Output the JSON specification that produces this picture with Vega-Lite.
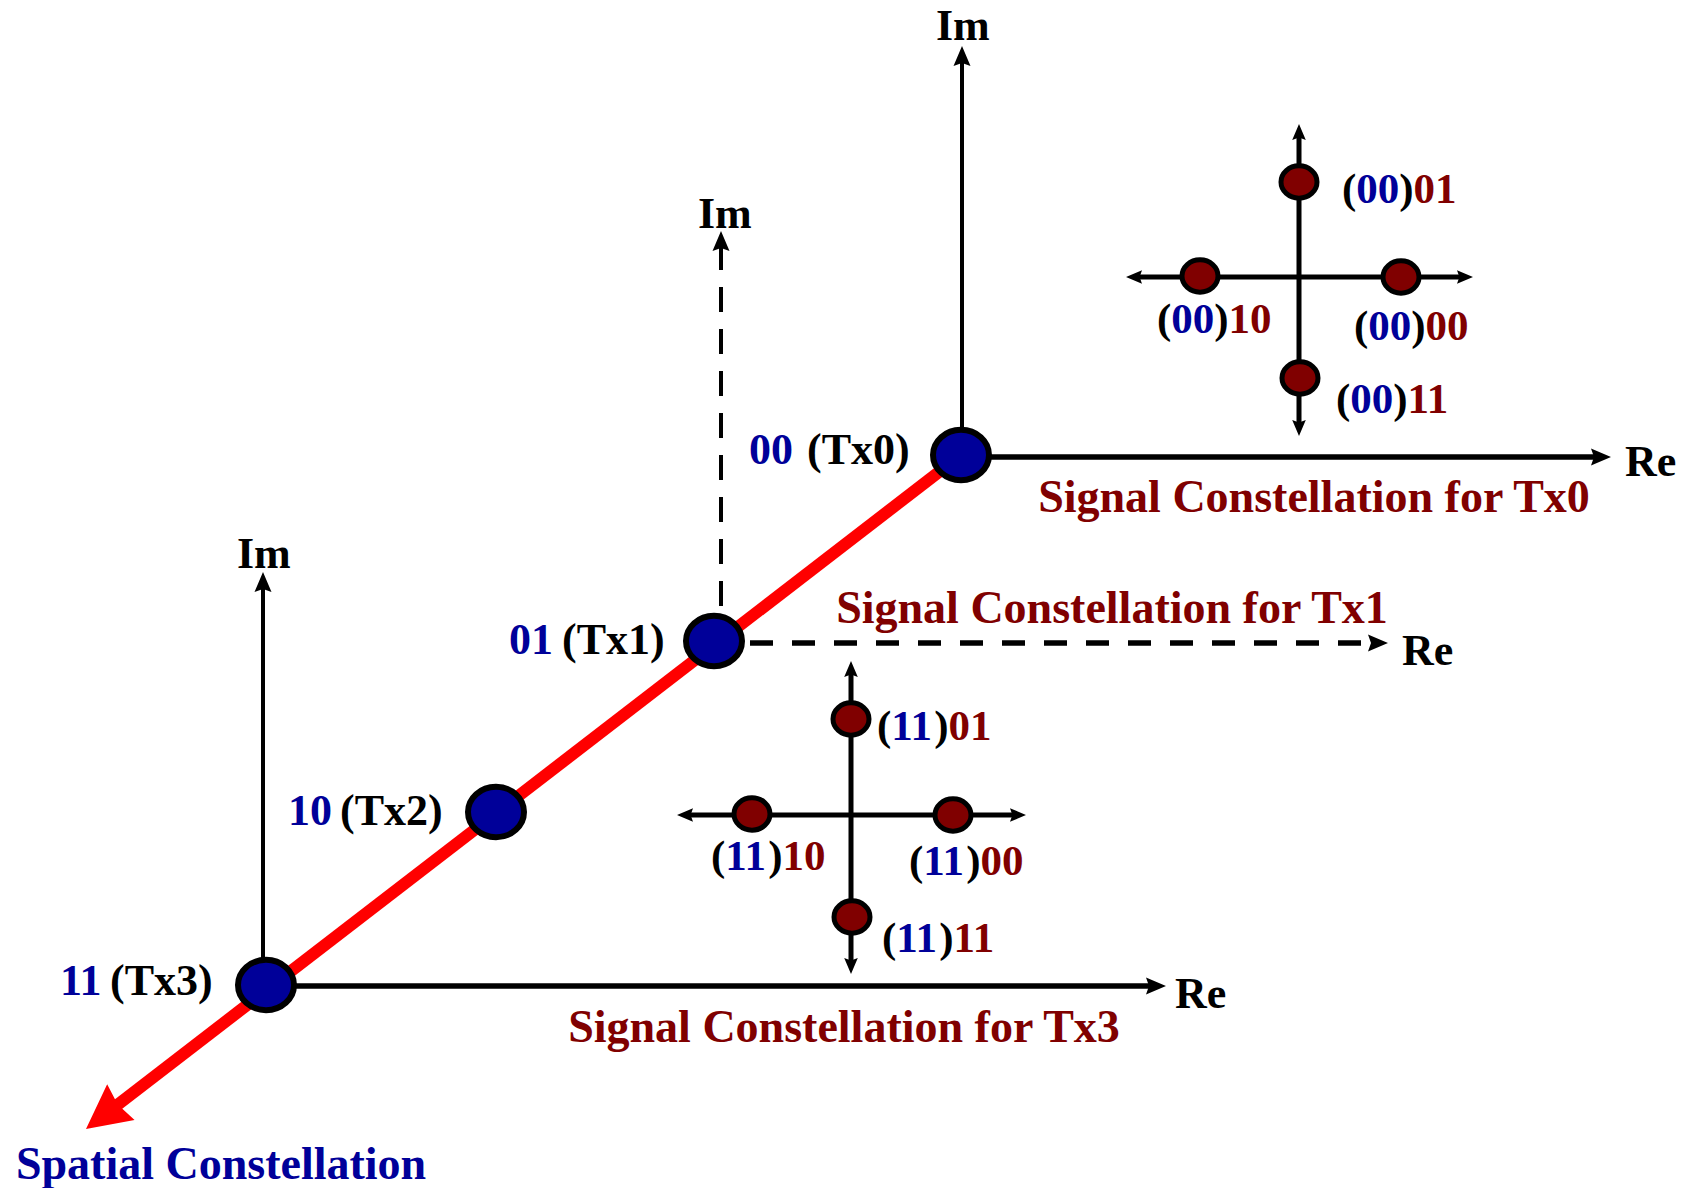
{
  "$schema": "https://vega.github.io/schema/vega-lite/v6.json",
  "width": 1689,
  "height": 1188,
  "padding": 0,
  "autosize": {"type": "none"},
  "background": "white",
  "config": {"view": {"stroke": null}},
  "datasets": {
    "segments": [
      {"plane": "spatial", "axis": "spatial", "x": 961, "y": 455, "x2": 116, "y2": 1106},
      {"plane": "Tx0", "axis": "Im", "x": 962, "y": 455, "x2": 962, "y2": 61},
      {"plane": "Tx0", "axis": "Re", "x": 961, "y": 457, "x2": 1596, "y2": 457},
      {"plane": "Tx1", "axis": "Im", "x": 721, "y": 245, "x2": 721, "y2": 612},
      {"plane": "Tx1", "axis": "Re", "x": 750, "y": 643, "x2": 1374, "y2": 643},
      {"plane": "Tx3", "axis": "Im", "x": 263, "y": 985, "x2": 263, "y2": 587},
      {"plane": "Tx3", "axis": "Re", "x": 266, "y": 986, "x2": 1151, "y2": 986},
      {"plane": "Tx0 symbols", "axis": "Im", "x": 1299, "y": 136, "x2": 1299, "y2": 424},
      {"plane": "Tx0 symbols", "axis": "Re", "x": 1138, "y": 277, "x2": 1461, "y2": 277},
      {"plane": "Tx3 symbols", "axis": "Im", "x": 851, "y": 673, "x2": 851, "y2": 962},
      {"plane": "Tx3 symbols", "axis": "Re", "x": 689, "y": 815, "x2": 1014, "y2": 815}
    ],
    "heads": [
      {"plane": "spatial", "x": 86, "y": 1129, "dir": "down-left"},
      {"plane": "Tx0", "x": 962, "y": 46, "dir": "up"},
      {"plane": "Tx0", "x": 1611, "y": 457, "dir": "right"},
      {"plane": "Tx1", "x": 721, "y": 231, "dir": "up"},
      {"plane": "Tx1", "x": 1388, "y": 643, "dir": "right"},
      {"plane": "Tx3", "x": 263, "y": 572, "dir": "up"},
      {"plane": "Tx3", "x": 1166, "y": 986, "dir": "right"},
      {"plane": "Tx0 symbols", "x": 1299, "y": 124, "dir": "up"},
      {"plane": "Tx0 symbols", "x": 1299, "y": 436, "dir": "down"},
      {"plane": "Tx0 symbols", "x": 1126, "y": 277, "dir": "left"},
      {"plane": "Tx0 symbols", "x": 1473, "y": 277, "dir": "right"},
      {"plane": "Tx3 symbols", "x": 851, "y": 661, "dir": "up"},
      {"plane": "Tx3 symbols", "x": 851, "y": 974, "dir": "down"},
      {"plane": "Tx3 symbols", "x": 677, "y": 815, "dir": "left"},
      {"plane": "Tx3 symbols", "x": 1026, "y": 815, "dir": "right"}
    ],
    "dots": [
      {"kind": "antenna", "label": "00", "x": 961, "y": 455},
      {"kind": "antenna", "label": "01", "x": 714, "y": 641},
      {"kind": "antenna", "label": "10", "x": 496, "y": 812},
      {"kind": "antenna", "label": "11", "x": 266, "y": 985},
      {"kind": "symbol", "label": "(00)01", "x": 1299, "y": 182},
      {"kind": "symbol", "label": "(00)10", "x": 1200, "y": 276},
      {"kind": "symbol", "label": "(00)00", "x": 1401, "y": 277},
      {"kind": "symbol", "label": "(00)11", "x": 1300, "y": 378},
      {"kind": "symbol", "label": "(11)01", "x": 851, "y": 719},
      {"kind": "symbol", "label": "(11)10", "x": 752, "y": 814},
      {"kind": "symbol", "label": "(11)00", "x": 953, "y": 815},
      {"kind": "symbol", "label": "(11)11", "x": 852, "y": 917}
    ],
    "texts": [
      {"group": "title", "text": "Signal Constellation for Tx0", "x": 1314, "y": 512, "role": "signal"},
      {"group": "title", "text": "Signal Constellation for Tx1", "x": 1112, "y": 623, "role": "signal"},
      {"group": "title", "text": "Signal Constellation for Tx3", "x": 844, "y": 1042, "role": "signal"},
      {"group": "title", "text": "Spatial Constellation", "x": 221, "y": 1179, "role": "spatial"},

      {"group": "label", "text": "00", "x": 749, "y": 464, "role": "spatial"},
      {"group": "label", "text": "(Tx0)", "x": 807, "y": 464, "role": "plain"},
      {"group": "label", "text": "01", "x": 509, "y": 654, "role": "spatial"},
      {"group": "label", "text": "(Tx1)", "x": 562, "y": 654, "role": "plain"},
      {"group": "label", "text": "10", "x": 288, "y": 825, "role": "spatial"},
      {"group": "label", "text": "(Tx2)", "x": 340, "y": 825, "role": "plain"},
      {"group": "label", "text": "11", "x": 60, "y": 995, "role": "spatial"},
      {"group": "label", "text": "(Tx3)", "x": 110, "y": 995, "role": "plain"},

      {"group": "label", "text": "Im", "x": 936, "y": 40, "role": "plain"},
      {"group": "label", "text": "Im", "x": 698, "y": 228, "role": "plain"},
      {"group": "label", "text": "Im", "x": 237, "y": 568, "role": "plain"},
      {"group": "label", "text": "Re", "x": 1625, "y": 476, "role": "plain"},
      {"group": "label", "text": "Re", "x": 1402, "y": 665, "role": "plain"},
      {"group": "label", "text": "Re", "x": 1175, "y": 1008, "role": "plain"},

      {"group": "point", "text": "(", "x": 1342, "y": 203, "role": "plain"},
      {"group": "point", "text": "00", "x": 1356.3, "y": 203, "role": "spatial"},
      {"group": "point", "text": ")", "x": 1399.3, "y": 203, "role": "plain"},
      {"group": "point", "text": "01", "x": 1413.6, "y": 203, "role": "signal"},

      {"group": "point", "text": "(", "x": 1157, "y": 333, "role": "plain"},
      {"group": "point", "text": "00", "x": 1171.3, "y": 333, "role": "spatial"},
      {"group": "point", "text": ")", "x": 1214.3, "y": 333, "role": "plain"},
      {"group": "point", "text": "10", "x": 1228.6, "y": 333, "role": "signal"},

      {"group": "point", "text": "(", "x": 1354, "y": 340, "role": "plain"},
      {"group": "point", "text": "00", "x": 1368.3, "y": 340, "role": "spatial"},
      {"group": "point", "text": ")", "x": 1411.3, "y": 340, "role": "plain"},
      {"group": "point", "text": "00", "x": 1425.6, "y": 340, "role": "signal"},

      {"group": "point", "text": "(", "x": 1336, "y": 413, "role": "plain"},
      {"group": "point", "text": "00", "x": 1350.3, "y": 413, "role": "spatial"},
      {"group": "point", "text": ")", "x": 1393.3, "y": 413, "role": "plain"},
      {"group": "point", "text": "11", "x": 1407.6, "y": 413, "role": "signal"},

      {"group": "point", "text": "(", "x": 877, "y": 740, "role": "plain"},
      {"group": "point", "text": "11", "x": 891.3, "y": 740, "role": "spatial"},
      {"group": "point", "text": ")", "x": 934.3, "y": 740, "role": "plain"},
      {"group": "point", "text": "01", "x": 948.6, "y": 740, "role": "signal"},

      {"group": "point", "text": "(", "x": 711, "y": 870, "role": "plain"},
      {"group": "point", "text": "11", "x": 725.3, "y": 870, "role": "spatial"},
      {"group": "point", "text": ")", "x": 768.3, "y": 870, "role": "plain"},
      {"group": "point", "text": "10", "x": 782.6, "y": 870, "role": "signal"},

      {"group": "point", "text": "(", "x": 909, "y": 875, "role": "plain"},
      {"group": "point", "text": "11", "x": 923.3, "y": 875, "role": "spatial"},
      {"group": "point", "text": ")", "x": 966.3, "y": 875, "role": "plain"},
      {"group": "point", "text": "00", "x": 980.6, "y": 875, "role": "signal"},

      {"group": "point", "text": "(", "x": 882, "y": 952, "role": "plain"},
      {"group": "point", "text": "11", "x": 896.3, "y": 952, "role": "spatial"},
      {"group": "point", "text": ")", "x": 939.3, "y": 952, "role": "plain"},
      {"group": "point", "text": "11", "x": 953.6, "y": 952, "role": "signal"}
    ]
  },
  "encoding": {
    "x": {"field": "x", "type": "quantitative", "scale": {"domain": [0, 1689], "nice": false, "zero": false}, "axis": null},
    "y": {"field": "y", "type": "quantitative", "scale": {"domain": [0, 1188], "nice": false, "zero": false, "reverse": true}, "axis": null}
  },
  "layer": [
    {
      "data": {"name": "segments"},
      "transform": [{"filter": "datum.axis == 'spatial'"}],
      "mark": {"type": "rule", "color": "#ff0000", "strokeWidth": 12},
      "encoding": {"x2": {"field": "x2"}, "y2": {"field": "y2"}}
    },
    {
      "data": {"name": "heads"},
      "transform": [{"filter": "datum.plane == 'spatial'"}],
      "mark": {"type": "point", "shape": "M0,0L1.02,2L0,1.82L-1.02,2Z", "size": 1936, "filled": true, "fill": "#ff0000", "strokeWidth": 0, "opacity": 1},
      "encoding": {
        "angle": {"field": "dir", "type": "nominal", "scale": {"type": "ordinal", "domain": ["up", "right", "down", "left", "down-left"], "range": [0, 90, 180, 270, 232.4]}, "legend": null}
      }
    },
    {
      "data": {"name": "segments"},
      "transform": [{"filter": "(datum.plane == 'Tx0' || datum.plane == 'Tx3') && datum.axis == 'Im'"}],
      "mark": {"type": "rule", "color": "#000000", "strokeWidth": 4},
      "encoding": {"x2": {"field": "x2"}, "y2": {"field": "y2"}}
    },
    {
      "data": {"name": "segments"},
      "transform": [{"filter": "(datum.plane == 'Tx0' || datum.plane == 'Tx3') && datum.axis == 'Re'"}],
      "mark": {"type": "rule", "color": "#000000", "strokeWidth": 5.5},
      "encoding": {"x2": {"field": "x2"}, "y2": {"field": "y2"}}
    },
    {
      "data": {"name": "segments"},
      "transform": [{"filter": "datum.plane == 'Tx1' && datum.axis == 'Im'"}],
      "mark": {"type": "rule", "color": "#000000", "strokeWidth": 4, "strokeDash": [25, 17]},
      "encoding": {"x2": {"field": "x2"}, "y2": {"field": "y2"}}
    },
    {
      "data": {"name": "segments"},
      "transform": [{"filter": "datum.plane == 'Tx1' && datum.axis == 'Re'"}],
      "mark": {"type": "rule", "color": "#000000", "strokeWidth": 5.5, "strokeDash": [23, 19]},
      "encoding": {"x2": {"field": "x2"}, "y2": {"field": "y2"}}
    },
    {
      "data": {"name": "segments"},
      "transform": [{"filter": "datum.plane == 'Tx0 symbols' || datum.plane == 'Tx3 symbols'"}],
      "mark": {"type": "rule", "color": "#000000", "strokeWidth": 5},
      "encoding": {"x2": {"field": "x2"}, "y2": {"field": "y2"}}
    },
    {
      "data": {"name": "heads"},
      "transform": [{"filter": "datum.plane == 'Tx0' || datum.plane == 'Tx1' || datum.plane == 'Tx3'"}],
      "mark": {"type": "point", "shape": "M0,0L0.85,2L0,1.7L-0.85,2Z", "size": 400, "filled": true, "fill": "#000000", "strokeWidth": 0, "opacity": 1},
      "encoding": {
        "angle": {"field": "dir", "type": "nominal", "scale": {"type": "ordinal", "domain": ["up", "right", "down", "left", "down-left"], "range": [0, 90, 180, 270, 232.4]}, "legend": null}
      }
    },
    {
      "data": {"name": "heads"},
      "transform": [{"filter": "datum.plane == 'Tx0 symbols' || datum.plane == 'Tx3 symbols'"}],
      "mark": {"type": "point", "shape": "M0,0L0.85,2L0,1.7L-0.85,2Z", "size": 256, "filled": true, "fill": "#000000", "strokeWidth": 0, "opacity": 1},
      "encoding": {
        "angle": {"field": "dir", "type": "nominal", "scale": {"type": "ordinal", "domain": ["up", "right", "down", "left", "down-left"], "range": [0, 90, 180, 270, 232.4]}, "legend": null}
      }
    },
    {
      "data": {"name": "dots"},
      "transform": [{"filter": "datum.kind == 'antenna'"}],
      "mark": {"type": "point", "shape": "M-1,0C-1,-0.497,-0.552,-0.9,0,-0.9C0.552,-0.9,1,-0.497,1,0C1,0.497,0.552,0.9,0,0.9C-0.552,0.9,-1,0.497,-1,0Z", "size": 3136, "filled": true, "fill": "#000099", "stroke": "#000000", "strokeWidth": 6, "opacity": 1, "fillOpacity": 1, "strokeOpacity": 1}
    },
    {
      "data": {"name": "dots"},
      "transform": [{"filter": "datum.kind == 'symbol'"}],
      "mark": {"type": "point", "shape": "M-1,0C-1,-0.497,-0.552,-0.9,0,-0.9C0.552,-0.9,1,-0.497,1,0C1,0.497,0.552,0.9,0,0.9C-0.552,0.9,-1,0.497,-1,0Z", "size": 1296, "filled": true, "fill": "#800000", "stroke": "#000000", "strokeWidth": 5, "opacity": 1, "fillOpacity": 1, "strokeOpacity": 1}
    },
    {
      "data": {"name": "texts"},
      "transform": [{"filter": "datum.group == 'title'"}],
      "mark": {"type": "text", "font": "Liberation Serif", "fontWeight": "bold", "fontSize": 46, "align": "center", "baseline": "alphabetic"},
      "encoding": {
        "text": {"field": "text"},
        "color": {"field": "role", "type": "nominal", "scale": {"domain": ["spatial", "signal", "plain"], "range": ["#000099", "#800000", "#000000"]}, "legend": null}
      }
    },
    {
      "data": {"name": "texts"},
      "transform": [{"filter": "datum.group == 'label'"}],
      "mark": {"type": "text", "font": "Liberation Serif", "fontWeight": "bold", "fontSize": 44, "align": "left", "baseline": "alphabetic"},
      "encoding": {
        "text": {"field": "text"},
        "color": {"field": "role", "type": "nominal", "scale": {"domain": ["spatial", "signal", "plain"], "range": ["#000099", "#800000", "#000000"]}, "legend": null}
      }
    },
    {
      "data": {"name": "texts"},
      "transform": [{"filter": "datum.group == 'point'"}],
      "mark": {"type": "text", "font": "Liberation Serif", "fontWeight": "bold", "fontSize": 43, "align": "left", "baseline": "alphabetic"},
      "encoding": {
        "text": {"field": "text"},
        "color": {"field": "role", "type": "nominal", "scale": {"domain": ["spatial", "signal", "plain"], "range": ["#000099", "#800000", "#000000"]}, "legend": null}
      }
    }
  ]
}
